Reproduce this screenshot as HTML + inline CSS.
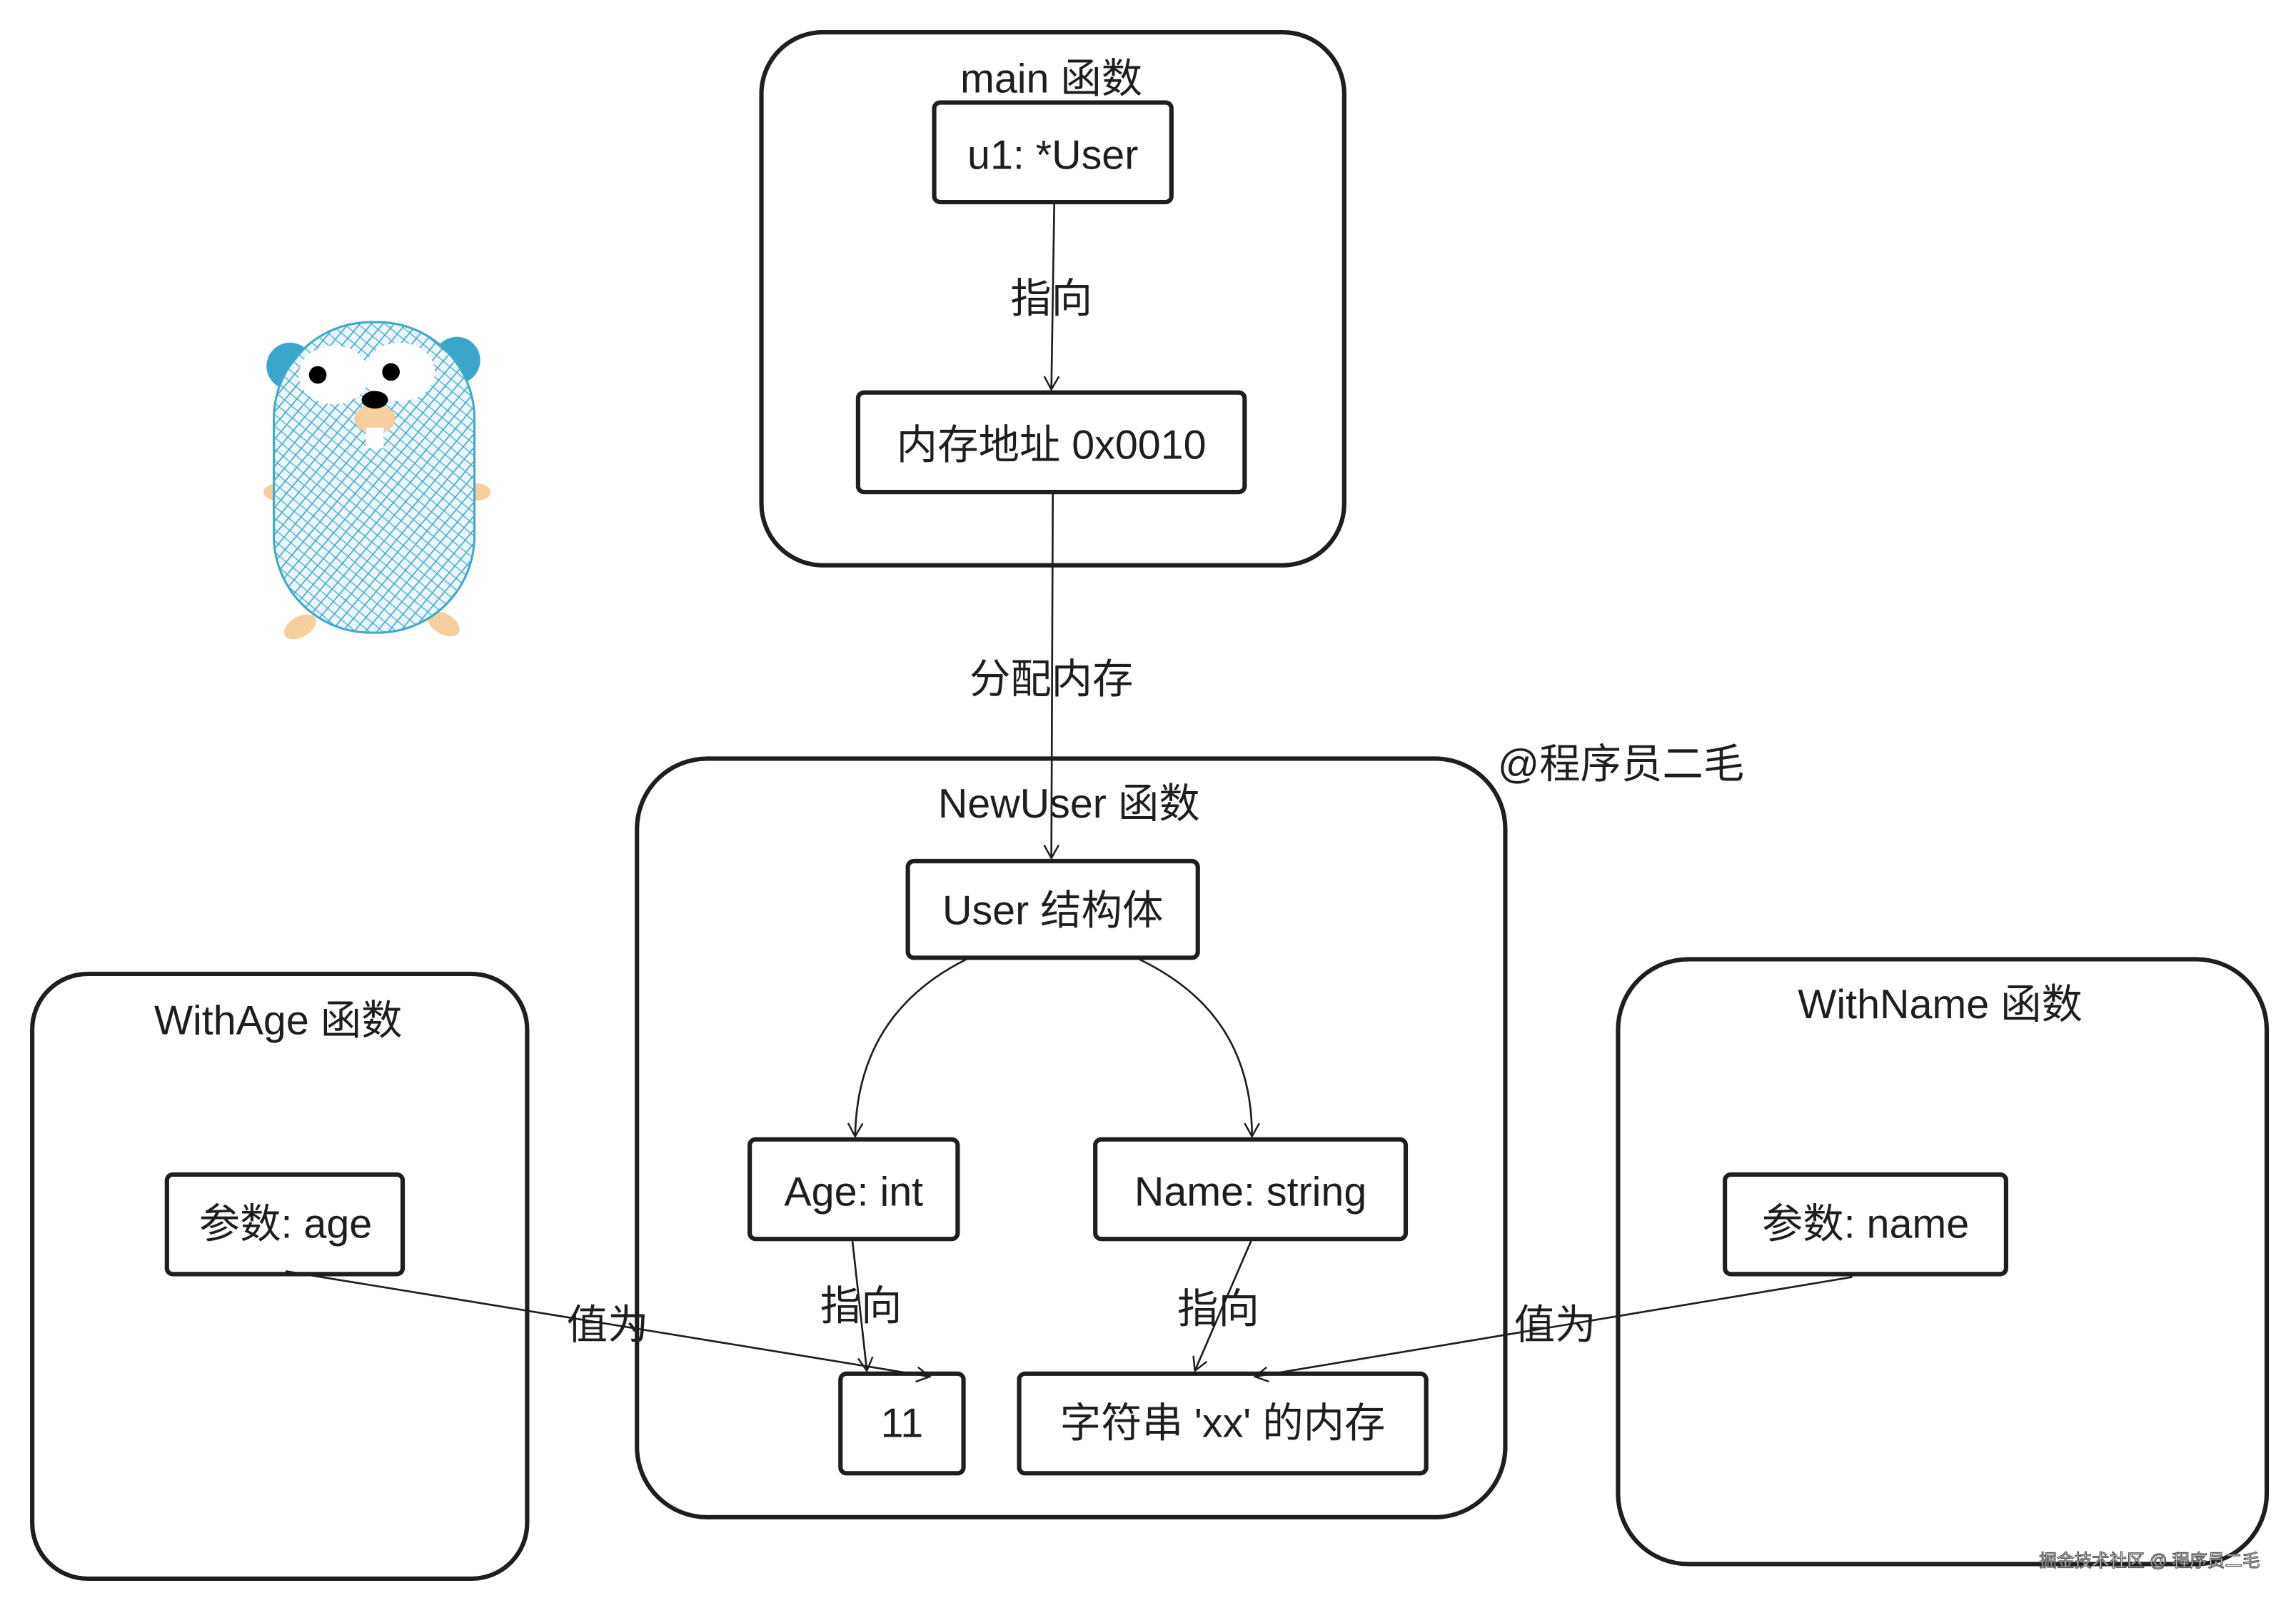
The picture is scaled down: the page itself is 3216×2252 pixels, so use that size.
<!DOCTYPE html>
<html><head><meta charset="utf-8"><style>
html,body{margin:0;padding:0;background:#fff;}
svg{display:block;}
text{font-family:"Liberation Sans","Noto Sans CJK SC",sans-serif;fill:#1e1e1e;text-anchor:middle;dominant-baseline:central;}
</style></head><body>
<svg width="3216" height="2252" viewBox="0 0 1568 1098" preserveAspectRatio="none" xmlns="http://www.w3.org/2000/svg">
<defs>
<pattern id="hatch" width="6" height="6" patternUnits="userSpaceOnUse" patternTransform="rotate(40)">
<rect width="6" height="6" fill="#eaf6fb"/>
<line x1="0" y1="0" x2="0" y2="6" stroke="#3fa9cc" stroke-width="1.6"/>
<line x1="0" y1="0" x2="6" y2="0" stroke="#3fa9cc" stroke-width="1.2"/>
</pattern>
<marker id="ar" markerWidth="12" markerHeight="12" refX="10" refY="6" orient="auto" markerUnits="userSpaceOnUse">
<path d="M1,1 L10,6 L1,11" fill="none" stroke="#1e1e1e" stroke-width="1.2"/>
</marker>
</defs>
<g fill="none" stroke="#1e1e1e" stroke-width="3">
<!-- big containers -->
<rect x="520" y="22" width="398" height="364" rx="42"/>
<rect x="435" y="518" width="593" height="518" rx="48"/>
<rect x="22" y="665" width="338" height="413" rx="38"/>
<rect x="1105" y="655" width="443" height="413" rx="48"/>
<!-- inner boxes -->
<rect x="638" y="70" width="162" height="68" rx="4"/>
<rect x="586" y="268" width="264" height="68" rx="4"/>
<rect x="620" y="588" width="198" height="66" rx="4"/>
<rect x="512" y="778" width="142" height="68" rx="4"/>
<rect x="748" y="778" width="212" height="68" rx="4"/>
<rect x="574" y="938" width="84" height="68" rx="4"/>
<rect x="696" y="938" width="278" height="68" rx="4"/>
<rect x="114" y="802" width="161" height="68" rx="4"/>
<rect x="1178" y="802" width="192" height="68" rx="4"/>
</g>
<g fill="none" stroke="#1e1e1e" stroke-width="1.3" marker-end="url(#ar)">
<path d="M720,138 L718,266"/>
<path d="M719,336 L718,586"/>
<path d="M660,655 C610,680 585,720 584,776"/>
<path d="M778,655 C830,680 855,720 855,776"/>
<path d="M582,846 L592,936"/>
<path d="M855,846 L816,936"/>
<path d="M195,868 L635,940"/>
<path d="M1265,872 L857,940"/>
</g>
<g font-size="28">
<text x="718" y="54">main 函数</text>
<text x="719" y="106">u1: *User</text>
<text x="718" y="204">指向</text>
<text x="718" y="304">内存地址 0x0010</text>
<text x="718" y="464">分配内存</text>
<text x="1107" y="522">@程序员二毛</text>
<text x="730" y="549">NewUser 函数</text>
<text x="719" y="622">User 结构体</text>
<text x="583" y="814">Age: int</text>
<text x="854" y="814">Name: string</text>
<text x="588" y="892">指向</text>
<text x="832" y="894">指向</text>
<text x="616" y="972">11</text>
<text x="835" y="972">字符串 'xx' 的内存</text>
<text x="190" y="697">WithAge 函数</text>
<text x="195" y="836">参数: age</text>
<text x="415" y="905">值为</text>
<text x="1325" y="686">WithName 函数</text>
<text x="1274" y="836">参数: name</text>
<text x="1062" y="905">值为</text>
</g>
<text x="1468" y="1066" font-size="12" style="fill:#fff;stroke:#555;stroke-width:0.6">掘金技术社区 @ 程序员二毛</text>
<!-- gopher -->
<g>
<circle cx="198" cy="250" r="16" fill="#3aa6c9"/>
<circle cx="312" cy="246" r="16" fill="#3aa6c9"/>
<ellipse cx="190" cy="336" rx="10" ry="6" fill="#f6cf9f"/>
<ellipse cx="325" cy="336" rx="10" ry="6" fill="#f6cf9f"/>
<ellipse cx="205" cy="428" rx="12" ry="7" fill="#f6cf9f" transform="rotate(-30 205 428)"/>
<ellipse cx="303" cy="426" rx="12" ry="7" fill="#f6cf9f" transform="rotate(30 303 426)"/>
<rect x="187" y="220" width="137" height="212" rx="66" fill="url(#hatch)" stroke="#3fa9cc" stroke-width="1.5"/>
<ellipse cx="228" cy="256" rx="24" ry="20" fill="#fff"/>
<ellipse cx="273" cy="254" rx="24" ry="20" fill="#fff"/>
<circle cx="217" cy="256" r="6" fill="#000"/>
<circle cx="267" cy="254" r="6" fill="#000"/>
<ellipse cx="256" cy="286" rx="14" ry="10" fill="#f6cf9f"/>
<ellipse cx="256" cy="273" rx="9" ry="6" fill="#000"/>
<rect x="250" y="292" width="12" height="14" fill="#fff"/>
</g>
</svg>
</body></html>
